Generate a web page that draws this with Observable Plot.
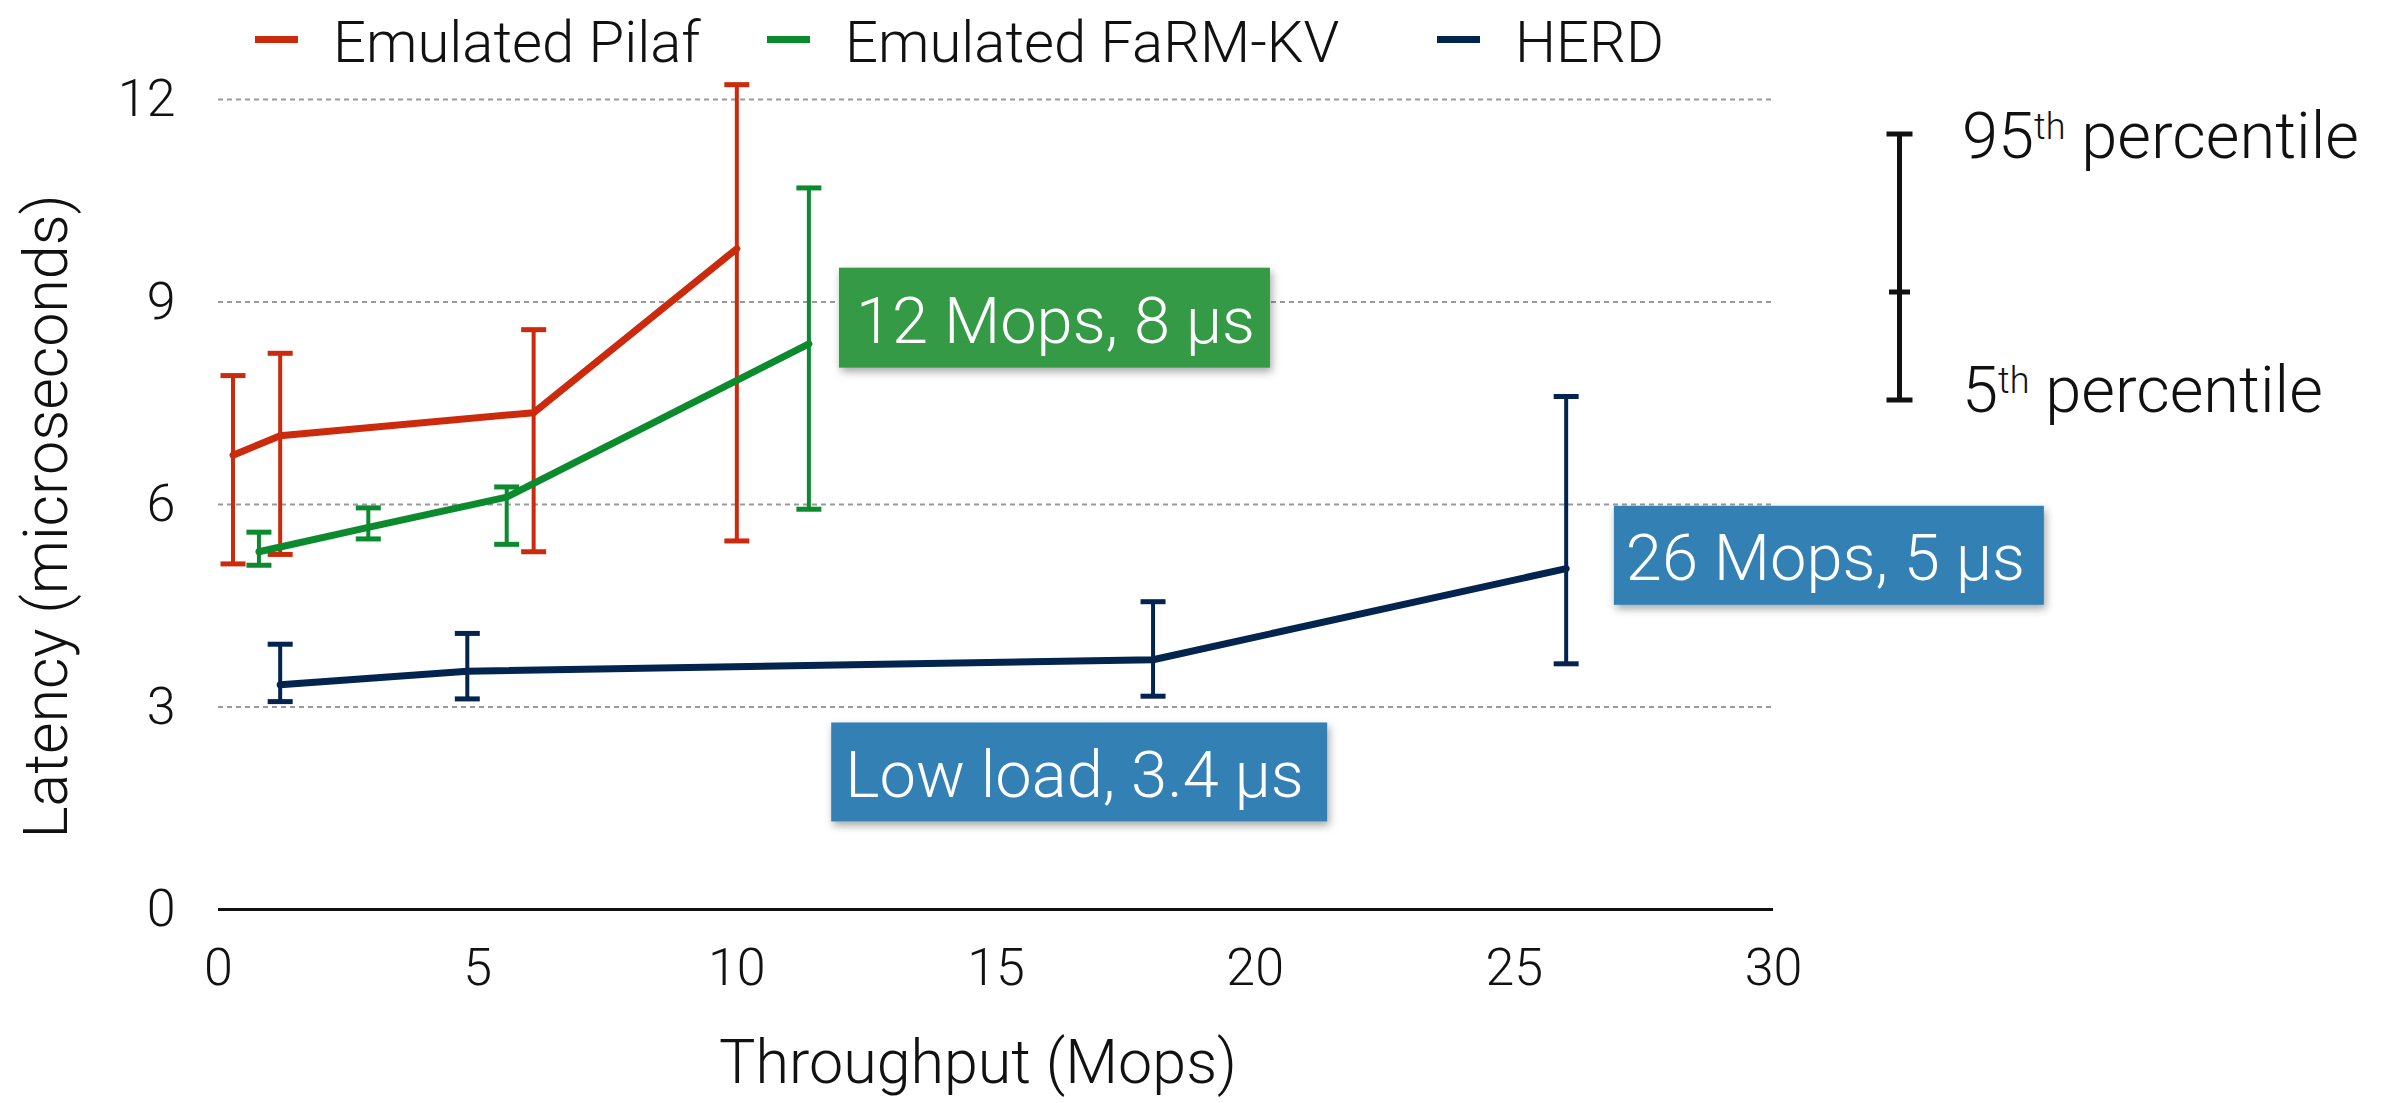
<!DOCTYPE html>
<html><head><meta charset="utf-8">
<script src="https://cdn.jsdelivr.net/npm/d3@7"></script>
<script src="https://cdn.jsdelivr.net/npm/@observablehq/plot@0.6"></script>
<style>
html,body{margin:0;padding:0;background:#fff;}
#wrap{position:relative;width:2402px;height:1103px;overflow:hidden;}
#wrap svg{display:block}
#overlay{position:absolute;left:0;top:0;pointer-events:none;}
</style></head><body><div id="wrap"></div>
<script>
// ---------- data ----------
const seriesNames = ["Emulated Pilaf", "Emulated FaRM-KV", "HERD"];
const seriesColors = ["#cc2a0c", "#0b8a2e", "#03244f"];

const throughputPilaf = [0.28, 1.19, 6.08, 10.0];
const latencyPilaf    = [6.73, 7.02, 7.36, 9.79];
const p5Pilaf         = [5.12, 5.26, 5.30, 5.46];
const p95Pilaf        = [7.91, 8.24, 8.59, 12.22];

const throughputFarm = [0.78, 2.89, 5.56, 11.39];
const latencyFarm    = [5.30, 5.66, 6.11, 8.38];
const p5Farm         = [5.10, 5.49, 5.41, 5.93];
const p95Farm        = [5.59, 5.95, 6.26, 10.69];

const throughputHerd = [1.19, 4.80, 18.03, 26.0];
const latencyHerd    = [3.33, 3.53, 3.70, 5.05];
const p5Herd         = [3.08, 3.12, 3.16, 3.64];
const p95Herd        = [3.93, 4.09, 4.56, 7.60];

const xTicks = [0, 5, 10, 15, 20, 25, 30];
const yTicks = [0, 3, 6, 9, 12];
const gridValues = [3, 6, 9, 12];
const xLabel = "Throughput (Mops)";
const yLabel = "Latency (microseconds)";

const annotLabels = ["12 Mops, 8 μs", "26 Mops, 5 μs", "Low load, 3.4 μs"];
const annotX = [11.98, 26.93, 11.83];   // left edge of box, in Mops
const annotY = [8.76, 5.24, 2.03];      // vertical centre of box, in μs
const annotColors = ["#349a45", "#3180b4", "#3180b4"];

// ---------- build ----------
const FONT = "'Helvetica Neue', Roboto, 'Liberation Sans', sans-serif";
const seriesData = [
  [throughputPilaf, latencyPilaf, p5Pilaf, p95Pilaf],
  [throughputFarm, latencyFarm, p5Farm, p95Farm],
  [throughputHerd, latencyHerd, p5Herd, p95Herd]
].map(([xs, ys, lo, hi], i) => xs.map((x, j) => ({series: seriesNames[i], x, y: ys[j], lo: lo[j], hi: hi[j]})));

const cap = {draw(ctx, size) { const w = Math.sqrt(size / Math.PI); ctx.moveTo(-w, 0); ctx.lineTo(w, 0); }};

const marks = [
  Plot.ruleY(gridValues, {stroke: "#9a9a9a", strokeWidth: 2, strokeDasharray: "5,4"}),
  Plot.ruleY([0], {stroke: "#111", strokeWidth: 3})
];
seriesData.forEach((rows, i) => {
  const c = seriesColors[i];
  marks.push(
    Plot.ruleX(rows, {x: "x", y1: "lo", y2: "hi", stroke: c, strokeWidth: 4}),
    Plot.dot(rows, {x: "x", y: "hi", r: 12.5, symbol: cap, fill: "none", stroke: c, strokeWidth: 5}),
    Plot.dot(rows, {x: "x", y: "lo", r: 12.5, symbol: cap, fill: "none", stroke: c, strokeWidth: 5}),
    Plot.line(rows, {x: "x", y: "y", stroke: c, strokeWidth: 7})
  );
});
marks.push(
  Plot.text([xLabel], {text: d => d, frameAnchor: "bottom", dx: -18, dy: 173, fontSize: 61, fill: "#111"}),
  Plot.text([yLabel], {text: d => d, frameAnchor: "left", textAnchor: "middle", dx: -171, dy: 12, rotate: -90, fontSize: 61, fill: "#111"})
);

const chart = Plot.plot({
  width: 2402, height: 1103,
  marginLeft: 218, marginRight: 629, marginTop: 99, marginBottom: 194,
  style: {fontFamily: FONT, fontSize: "52px", fontWeight: 300, background: "#fff", color: "#111", overflow: "visible"},
  x: {domain: [0, 30], ticks: xTicks, tickSize: 0, tickPadding: 39, label: null},
  y: {domain: [0, 12], ticks: yTicks, tickSize: 0, tickPadding: 43, label: null},
  marks
});
document.getElementById("wrap").appendChild(chart);

// ---------- overlay: legends & annotation boxes ----------
const sxs = chart.scale("x"), sys = chart.scale("y");
const sx = d3.scaleLinear(sxs.domain, sxs.range);
const sy = d3.scaleLinear(sys.domain, sys.range);

const ov = d3.select("#wrap").append("svg").attr("id", "overlay")
  .attr("width", 2402).attr("height", 1103)
  .style("font-family", FONT).style("font-weight", 300);
const defs = ov.append("defs");
defs.append("filter").attr("id", "sh").attr("x", "-10%").attr("y", "-20%").attr("width", "130%").attr("height", "150%")
  .append("feDropShadow").attr("dx", 2).attr("dy", 4).attr("stdDeviation", 4).attr("flood-opacity", 0.35);

// series legend
const legX = [255, 767, 1437];
seriesNames.forEach((name, i) => {
  ov.append("rect").attr("x", legX[i]).attr("y", 36).attr("width", 43).attr("height", 7).attr("fill", seriesColors[i]);
  ov.append("text").attr("x", legX[i] + 78).attr("y", 62).attr("font-size", 58).attr("fill", "#111").text(name);
});

// percentile key
const kx = 1899.5;
const key = ov.append("g").attr("stroke", "#111").attr("stroke-width", 5);
key.append("line").attr("x1", kx).attr("x2", kx).attr("y1", 134).attr("y2", 400);
key.append("line").attr("x1", kx - 13).attr("x2", kx + 13).attr("y1", 134).attr("y2", 134);
key.append("line").attr("x1", kx - 13).attr("x2", kx + 13).attr("y1", 400).attr("y2", 400);
key.append("line").attr("x1", kx - 10.5).attr("x2", kx + 10.5).attr("y1", 292).attr("y2", 292);
[["95", 158], ["5", 412]].forEach(([n, by]) => {
  const t = ov.append("text").attr("x", 1962).attr("y", by).attr("font-size", 65).attr("fill", "#111");
  t.append("tspan").text(n);
  t.append("tspan").attr("font-size", 36).attr("dy", -19).text("th");
  t.append("tspan").attr("dy", 19).text(" percentile");
});

// annotation boxes
const boxW = [431, 430, 496], boxH = [100, 99, 99], padL = [17, 12, 14];
annotLabels.forEach((lab, i) => {
  const x0 = sx(annotX[i]), cy = sy(annotY[i]);
  ov.append("rect").attr("x", x0).attr("y", cy - boxH[i] / 2).attr("width", boxW[i]).attr("height", boxH[i])
    .attr("fill", annotColors[i]).attr("filter", "url(#sh)");
  ov.append("text").attr("x", x0 + padL[i]).attr("y", cy + 25).attr("font-size", 65).attr("fill", "#fff").text(lab);
});
</script></body></html>
